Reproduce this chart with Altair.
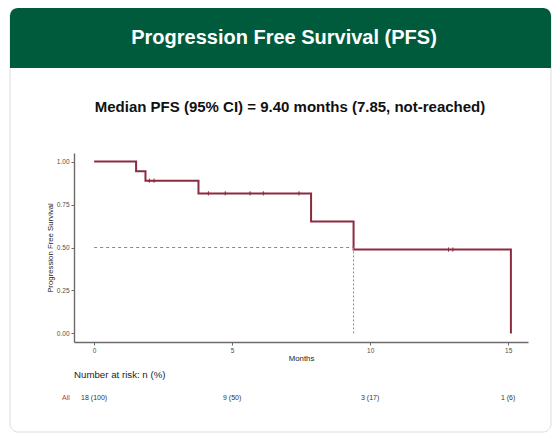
import altair as alt
import pandas as pd

# ---- data ----
step_times = [0.0, 1.52, 1.86, 3.78, 7.86, 9.40, 15.1]
step_surv = [1.0, 0.944, 0.889, 0.815, 0.651, 0.488, 0.0]
censor_times = [2.0, 2.17, 4.14, 4.75, 5.65, 6.13, 7.42, 12.84, 13.0]
censor_surv = [0.889, 0.889, 0.815, 0.815, 0.815, 0.815, 0.815, 0.488, 0.488]
risk_times = [0, 5, 10, 15]
risk_labels = ["18 (100)", "9 (50)", "3 (17)", "1 (6)"]
median_time = 9.40
median_level = 0.5
x_ticks = [0, 5, 10, 15]
y_ticks = [0.0, 0.25, 0.5, 0.75, 1.0]
header_text = "Progression Free Survival (PFS)"
subtitle_text = "Median PFS (95% CI) = 9.40 months (7.85, not-reached)"
risk_title = "Number at risk: n (%)"
group_label = "All"

FONT = "Liberation Sans"
LINE = "#8b2b40"

steps = pd.DataFrame({"t": step_times, "s": step_surv})
cens = pd.DataFrame({"t": censor_times, "s": censor_surv})
risk = pd.DataFrame({"t": risk_times, "lab": risk_labels})
hline = pd.DataFrame({"t": [0.0], "t2": [median_time], "s": [median_level]})
vline = pd.DataFrame({"t": [median_time], "s": [0.0], "s2": [median_level]})
one = pd.DataFrame({"k": [0]})

xs = alt.Scale(domain=[-0.73, 15.72], nice=False, zero=False)
ys = alt.Scale(domain=[-0.05, 1.05], nice=False, zero=False)

axis_common = dict(
    grid=False, zindex=2,
    labelFont=FONT, titleFont=FONT,
    labelFontSize=6.5, labelColor="#4d4d4d",
    titleFontSize=7.8, titleFontWeight="normal", titleColor="#222",
    domain=True, domainColor="#6b6b6b", domainWidth=1.4,
    ticks=True, tickColor="#6b6b6b", tickSize=3, tickWidth=1,
    labelPadding=2,
)

card = alt.Chart(one).mark_rect(
    fillOpacity=0, stroke="#dcdcdc", strokeWidth=1, cornerRadius=8
).encode(x=alt.value(-64), x2=alt.value(477), y=alt.value(-145), y2=alt.value(279))

header = alt.Chart(one).mark_rect(
    fill="#005a3c", cornerRadiusTopLeft=8, cornerRadiusTopRight=8
).encode(x=alt.value(-64), x2=alt.value(477), y=alt.value(-145), y2=alt.value(-85))

title = alt.Chart(pd.DataFrame({"txt": [header_text]})).mark_text(
    font=FONT, fontSize=20, fontWeight="bold", color="white", align="center", baseline="middle"
).encode(x=alt.value(210), y=alt.value(-115), text="txt:N")

subtitle = alt.Chart(pd.DataFrame({"txt": [subtitle_text]})).mark_text(
    font=FONT, fontSize=15, fontWeight="bold", color="#111", align="center", baseline="middle"
).encode(x=alt.value(216), y=alt.value(-46), text="txt:N")

base_line = alt.Chart(steps).mark_line(
    interpolate="step-after", color=LINE, strokeWidth=2
).encode(
    x=alt.X("t:Q", scale=xs,
            axis=alt.Axis(values=x_ticks, title="Months", format="d", titlePadding=1, **axis_common)),
    y=alt.Y("s:Q", scale=ys,
            axis=alt.Axis(values=y_ticks, title="Progression Free Survival", format=".2f",
                          titlePadding=2, **axis_common)),
)

censor = alt.Chart(cens).mark_point(
    shape="M-1,0L1,0M0,-1L0,1", filled=False, color=LINE, strokeWidth=1, size=18, opacity=1
).encode(x=alt.X("t:Q", scale=xs), y=alt.Y("s:Q", scale=ys))

h_med = alt.Chart(hline).mark_rule(color="#888", strokeDash=[3, 3], strokeWidth=1).encode(
    x=alt.X("t:Q", scale=xs), x2="t2:Q", y=alt.Y("s:Q", scale=ys)
)
v_med = alt.Chart(vline).mark_rule(color="#888", strokeDash=[2, 2], strokeWidth=1).encode(
    x=alt.X("t:Q", scale=xs), y=alt.Y("s:Q", scale=ys), y2="s2:Q"
)

risk_head = alt.Chart(pd.DataFrame({"txt": [risk_title]})).mark_text(
    font=FONT, fontSize=9.7, color="#222", align="left", baseline="middle"
).encode(x=alt.value(0), y=alt.value(222), text="txt:N")

grp = alt.Chart(pd.DataFrame({"txt": [group_label]})).mark_text(
    font=FONT, fontSize=7, color="#b03a55", align="center", baseline="middle"
).encode(x=alt.value(-8), y=alt.value(245), text="txt:N")

risk_txt = alt.Chart(risk).mark_text(
    font=FONT, fontSize=7, color="#333", align="center", baseline="middle"
).encode(x=alt.X("t:Q", scale=xs), y=alt.value(245), text="lab:N")

chart = alt.layer(
    base_line, censor, h_med, v_med, card, header, title, subtitle, risk_head, grp, risk_txt
).properties(
    width=454, height=189,
    padding={"left": 66, "top": 145, "right": 24, "bottom": 91},
    autosize=alt.AutoSizeParams(type="none"),
    background="white",
).configure_view(stroke=None)

chart.save("out.html", embed_options={"renderer": "svg", "actions": False})
